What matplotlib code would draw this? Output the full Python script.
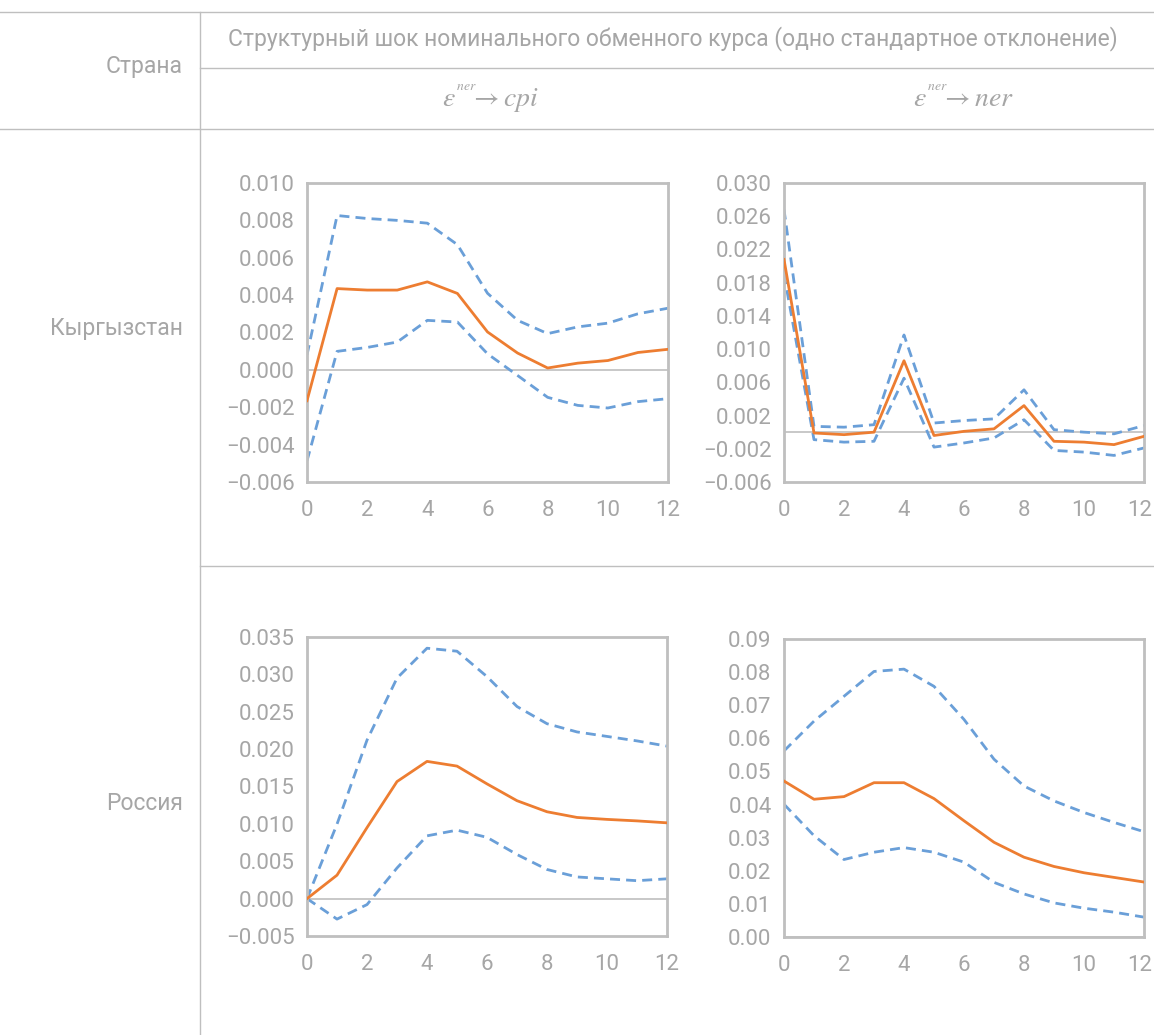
import numpy as np
import matplotlib
matplotlib.use("Agg")
import matplotlib.pyplot as plt
from matplotlib.lines import Line2D
from matplotlib.transforms import ScaledTranslation

W, H = 1154, 1035
GRAY_TXT = "#a6a6a6"
LINE = "#bfbfbf"
ORANGE = "#ed7d31"
BLUE = "#6a9fd8"

plt.rcParams.update({
    "font.family": ["Roboto", "DejaVu Sans"],
    "mathtext.fontset": "stix",
})

# horizons
steps = list(range(13))

# Кыргызстан: shock -> cpi
kg_cpi = [-0.00165, 0.00435, 0.00427, 0.00427, 0.00471, 0.00409, 0.00203,
          0.0009, 0.0001, 0.00036, 0.0005, 0.00093, 0.0011]
kg_cpi_hi = [0.0008, 0.00826, 0.0081, 0.0080, 0.00785, 0.0067, 0.0041,
             0.00265, 0.00194, 0.0023, 0.0025, 0.0030, 0.0033]
kg_cpi_lo = [-0.00487, 0.00099, 0.0012, 0.00149, 0.00265, 0.00256, 0.00086,
             -0.0003, -0.00147, -0.0019, -0.00204, -0.0017, -0.00154]

# Кыргызстан: shock -> ner
kg_ner = [0.0208, -0.0001, -0.0003, 0.0, 0.0086, -0.0004, 0.0001,
          0.0004, 0.0032, -0.0011, -0.0012, -0.0015, -0.0005]
kg_ner_hi = [0.0268, 0.0007, 0.0006, 0.0009, 0.0117, 0.0011, 0.0014,
             0.0016, 0.0051, 0.0003, 0.0, -0.0002, 0.0008]
kg_ner_lo = [0.019, -0.0009, -0.0012, -0.0011, 0.0065, -0.0018, -0.0013,
             -0.0007, 0.0015, -0.0022, -0.0024, -0.0028, -0.0019]

# Россия: shock -> cpi
ru_cpi = [0.0, 0.00314, 0.0095, 0.01566, 0.01836, 0.01773, 0.01535,
          0.0131, 0.01162, 0.01086, 0.0106, 0.0104, 0.01014]
ru_cpi_hi = [0.0, 0.00996, 0.0212, 0.0295, 0.0335, 0.0331, 0.0297,
             0.0257, 0.0234, 0.0223, 0.0217, 0.0211, 0.0204]
ru_cpi_lo = [0.0, -0.00274, -0.0008, 0.0041, 0.0084, 0.00916, 0.0082,
             0.0059, 0.0039, 0.0029, 0.00265, 0.0024, 0.00265]

# Россия: shock -> ner
ru_ner = [0.0471, 0.0416, 0.0424, 0.0466, 0.0466, 0.0418, 0.0351,
          0.0286, 0.0241, 0.0213, 0.0194, 0.018, 0.0166]
ru_ner_hi = [0.0562, 0.0652, 0.0727, 0.0802, 0.0809, 0.0757, 0.0657,
             0.0537, 0.0456, 0.0411, 0.0376, 0.0346, 0.0318]
ru_ner_lo = [0.0401, 0.0306, 0.0234, 0.0256, 0.027, 0.0256, 0.0226,
             0.0165, 0.013, 0.0103, 0.0087, 0.0075, 0.006]

countries = ["Кыргызстан", "Россия"]
header = "Структурный шок номинального обменного курса (одно стандартное отклонение)"
col_labels = [r"$\epsilon^{^{ner}}\!\!\rightarrow cpi$", r"$\epsilon^{^{ner}}\!\!\rightarrow ner$"]

fig = plt.figure(figsize=(W / 100, H / 100), dpi=100)


def fx(x):
    return x / W


def fy(y):
    return 1 - y / H


def hline(y, x0, x1):
    fig.add_artist(Line2D([fx(x0), fx(x1)], [fy(y), fy(y)], color=LINE, lw=1.0))


def vline(x, y0, y1):
    fig.add_artist(Line2D([fx(x), fx(x)], [fy(y0), fy(y1)], color=LINE, lw=1.0))


# table rules
hline(11.5, 0, W)
hline(67.5, 200, W)
hline(128.5, 0, W)
hline(565.5, 200, W)
vline(199.5, 11.5, H)

TXT = 16.5
fig.text(fx(183), fy(67), "Страна", ha="right", va="center", color=GRAY_TXT, fontsize=TXT)
fig.text(fx(673), fy(39), header, ha="center", va="center", color=GRAY_TXT, fontsize=TXT)
fig.text(fx(491), fy(99), col_labels[0], ha="center", va="center", color=GRAY_TXT, fontsize=20)
fig.text(fx(964), fy(99), col_labels[1], ha="center", va="center", color=GRAY_TXT, fontsize=20)
fig.text(fx(183), fy(328), countries[0], ha="right", va="center", color=GRAY_TXT, fontsize=TXT)
fig.text(fx(183), fy(803), countries[1], ha="right", va="center", color=GRAY_TXT, fontsize=TXT)

DASH = (0, (3.6, 2.2))


def panel(box, mid, hi, lo, ylim, yticks, fmt, nudge_last=False):
    x0, y0, x1, y1 = box
    ax = fig.add_axes([fx(x0), fy(y1), fx(x1 - x0), (y1 - y0) / H])
    ax.axhline(0, color=LINE, lw=1.2, zorder=1)
    ax.plot(steps, hi, color=BLUE, lw=2.0, ls=DASH, zorder=2)
    ax.plot(steps, lo, color=BLUE, lw=2.0, ls=DASH, zorder=2)
    ax.plot(steps, mid, color=ORANGE, lw=2.0, zorder=3)
    ax.set_xlim(0, 12)
    ax.set_ylim(*ylim)
    ax.set_xticks(range(0, 13, 2))
    ax.set_yticks(yticks)
    ax.set_yticklabels([fmt % v if v >= 0 else "\u2212" + fmt % -v for v in yticks])
    ax.tick_params(length=0, labelsize=16, labelcolor=GRAY_TXT)
    ax.tick_params(axis="y", pad=9)
    ax.tick_params(axis="x", pad=13)
    for s in ax.spines.values():
        s.set_color(LINE)
        s.set_linewidth(2.0)
    if nudge_last:
        # keep the "12" inside the page, as in the source
        lab = ax.get_xticklabels()[-1]
        lab.set_transform(lab.get_transform() +
                          ScaledTranslation(-4 / 100, 0, fig.dpi_scale_trans))
    return ax


panel((307, 183, 668, 482), kg_cpi, kg_cpi_hi, kg_cpi_lo, (-0.006, 0.010),
      np.arange(-0.006, 0.0101, 0.002), "%.3f")
panel((784, 183, 1144, 482), kg_ner, kg_ner_hi, kg_ner_lo, (-0.006, 0.030),
      np.arange(-0.006, 0.0301, 0.004), "%.3f", nudge_last=True)
panel((307, 637, 667, 936), ru_cpi, ru_cpi_hi, ru_cpi_lo, (-0.005, 0.035),
      np.arange(-0.005, 0.0351, 0.005), "%.3f")
panel((784, 639, 1144, 937), ru_ner, ru_ner_hi, ru_ner_lo, (0.0, 0.09),
      np.arange(0.0, 0.0901, 0.01), "%.2f", nudge_last=True)

fig.savefig("out.png", dpi=100)
